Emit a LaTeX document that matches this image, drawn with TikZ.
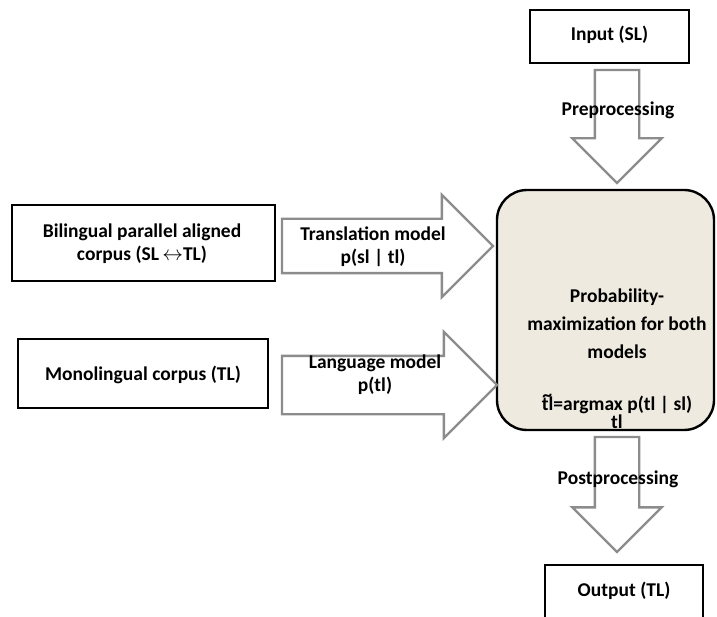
\documentclass[tikz,border=0pt]{standalone}
\usepackage{fontspec}
\setmainfont{Carlito}
\usepackage{tikz}
\usetikzlibrary{shapes,arrows,positioning}

\definecolor{probfill}{RGB}{238,234,224}
\definecolor{arrgray}{RGB}{140,140,140}

\begin{document}
\begin{tikzpicture}[x=1pt,y=-1pt,
  box/.style={draw,line width=2.2,inner sep=0pt,outer sep=0pt,align=center},
  bigarrow/.style={single arrow,draw=arrgray,fill=white,line width=2.4,
    outer sep=0pt,single arrow tip angle=90},
  lbl/.style={align=center,font=\fontsize{19.5}{23}\selectfont\bfseries}]
\useasboundingbox (0,0) rectangle (717,617);
% Source boxes
\node[box,minimum width=263,minimum height=76] (bil) at (143.5,243) {};
\node[lbl] (biltxt) at (142,244) {Bilingual parallel aligned\\corpus (SL\,$\leftrightarrow$TL)};
\node[box,minimum width=250,minimum height=69] (mono) at (143,373.5) {};
\node[lbl] (monotxt) at (143,375) {Monolingual corpus (TL)};
% Input and output
\node[box,minimum width=159,minimum height=53] (inp) at (609.5,36.5) {};
\node[lbl] (inptxt) at (609.5,35) {Input (SL)};
\node[box,minimum width=158,minimum height=53] (outp) at (624,591.5) {};
\node[lbl] (outptxt) at (624,591) {Output (TL)};
% Maximization box
\node[draw,line width=2.4,fill=probfill,rounded corners=30,minimum width=217,
  minimum height=240,inner sep=0pt] (prob) at (605.5,310) {};
\node[lbl,font=\fontsize{19.5}{28}\selectfont\bfseries,inner sep=0pt,anchor=north]
  (probtxt) at (617,289)
  {Probability-\\maximization for both\\models\\[24pt]%
   {\rlap{\raisebox{9.5pt}{\hspace{0.5pt}\textasciitilde}}t}l=argmax p(tl | sl)\\[-10pt]tl};
% Models
\node[bigarrow,minimum height=211,inner xsep=0pt,inner ysep=26,
  single arrow head extend=24,anchor=tail] (trans) at (282,246) {};
\node[lbl] (transtxt) at (373,246.5) {Translation model\\p(sl | tl)};
\node[bigarrow,minimum height=215,inner xsep=0pt,inner ysep=28,
  single arrow head extend=24,anchor=tail] (lang) at (282,385) {};
\node[lbl] (langtxt) at (375,375) {Language model\\p(tl)};
% Pre- and postprocessing
\node[bigarrow,shape border rotate=270,minimum height=113,inner xsep=21,
  inner ysep=0pt,single arrow head extend=22.5,anchor=tail] (pre) at (617,70) {};
\node[lbl] (pretxt) at (618,110) {Preprocessing};
\node[bigarrow,shape border rotate=270,minimum height=115,inner xsep=21,
  inner ysep=0pt,single arrow head extend=22.5,anchor=tail] (post) at (617,437) {};
\node[lbl] (posttxt) at (618,479) {Postprocessing};
\end{tikzpicture}
\end{document}
